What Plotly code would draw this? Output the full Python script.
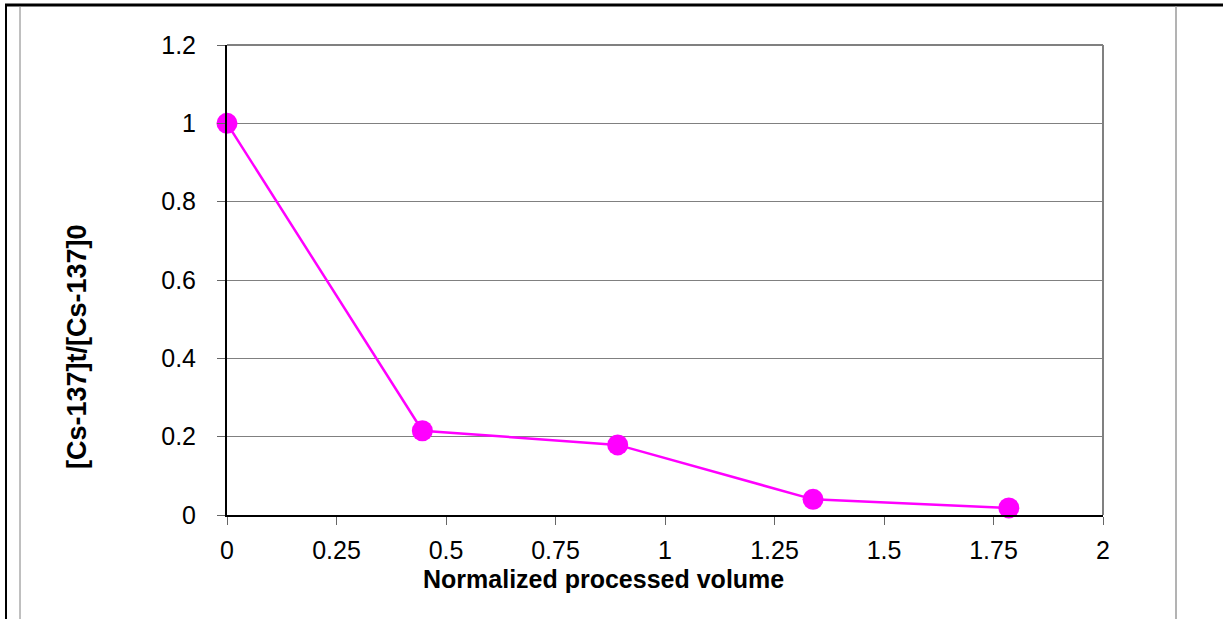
import plotly.graph_objects as go

# Data
normalized_volume = [0, 0.446, 0.892, 1.338, 1.785]
cs_ratio = [1.0, 0.215, 0.179, 0.040, 0.018]
x_ticks = [0, 0.25, 0.5, 0.75, 1, 1.25, 1.5, 1.75, 2]
x_tick_labels = ["0", "0.25", "0.5", "0.75", "1", "1.25", "1.5", "1.75", "2"]
y_ticks = [0, 0.2, 0.4, 0.6, 0.8, 1.0, 1.2]
y_tick_labels = ["0", "0.2", "0.4", "0.6", "0.8", "1", "1.2"]
x_title = "Normalized processed volume"
y_title = "[Cs-137]t/[Cs-137]0"

W, H = 1223, 619
L, R, T, B = 227, 1103, 45, 515
PW, PH = R - L, B - T

def px(x):
    return (x - L) / PW

def py(y):
    return (B - y) / PH

FONT = "Liberation Sans, Arial, sans-serif"

fig = go.Figure()
fig.add_trace(go.Scatter(
    x=normalized_volume, y=cs_ratio, mode="lines+markers",
    line=dict(color="#FF00FF", width=2.5),
    marker=dict(color="#FF00FF", size=21, symbol="circle"),
    cliponaxis=False, showlegend=False,
))

shapes = [
    # plot area top and right border (gray)
    dict(type="line", xref="paper", yref="paper", x0=0, x1=1, y0=1, y1=1,
         line=dict(color="#808080", width=2)),
    dict(type="line", xref="paper", yref="paper", x0=1, x1=1, y0=0, y1=1,
         line=dict(color="#808080", width=2)),
    # outer frame
    dict(type="line", xref="paper", yref="paper", x0=px(5), x1=px(1223), y0=py(5), y1=py(5),
         line=dict(color="black", width=3)),
    dict(type="line", xref="paper", yref="paper", x0=px(6), x1=px(6), y0=py(4), y1=py(619),
         line=dict(color="black", width=2)),
    dict(type="line", xref="paper", yref="paper", x0=px(20), x1=px(20), y0=py(6), y1=py(619),
         line=dict(color="#808080", width=1)),
    dict(type="line", xref="paper", yref="paper", x0=px(1176), x1=px(1176), y0=py(6), y1=py(619),
         line=dict(color="#9a9a9a", width=1.5)),
]

annotations = [
    dict(text="<b>" + x_title + "</b>", xref="paper", yref="paper",
         x=px(603), y=py(579), xanchor="center", yanchor="middle", showarrow=False,
         font=dict(family=FONT, size=25, color="black")),
    dict(text="<b>" + y_title + "</b>", xref="paper", yref="paper",
         x=px(77), y=py(347), xanchor="center", yanchor="middle", showarrow=False,
         textangle=-90, font=dict(family=FONT, size=27, color="black")),
]

fig.update_layout(
    width=W, height=H,
    margin=dict(l=L, r=W - R, t=T, b=H - B, pad=0),
    paper_bgcolor="white", plot_bgcolor="white",
    font=dict(family=FONT, size=25, color="black"),
    shapes=shapes, annotations=annotations,
    xaxis=dict(range=[0, 2], tickvals=x_ticks, ticktext=x_tick_labels,
               showgrid=False, zeroline=False, showline=True, linecolor="black", linewidth=2,
               ticks="outside", ticklen=8, tickcolor="#666666", tickwidth=1,
               ticklabelstandoff=4, fixedrange=True),
    yaxis=dict(range=[0, 1.2], tickvals=y_ticks, ticktext=y_tick_labels,
               showgrid=True, gridcolor="#808080", gridwidth=1, zeroline=False,
               showline=True, linecolor="black", linewidth=2,
               ticks="outside", ticklen=8, tickcolor="#666666", tickwidth=1,
               ticklabelstandoff=16, fixedrange=True),
)

fig.write_html(
    "out.html",
    config={"displayModeBar": False},
    post_script="document.body.style.margin='0';document.body.style.overflow='hidden';",
)
